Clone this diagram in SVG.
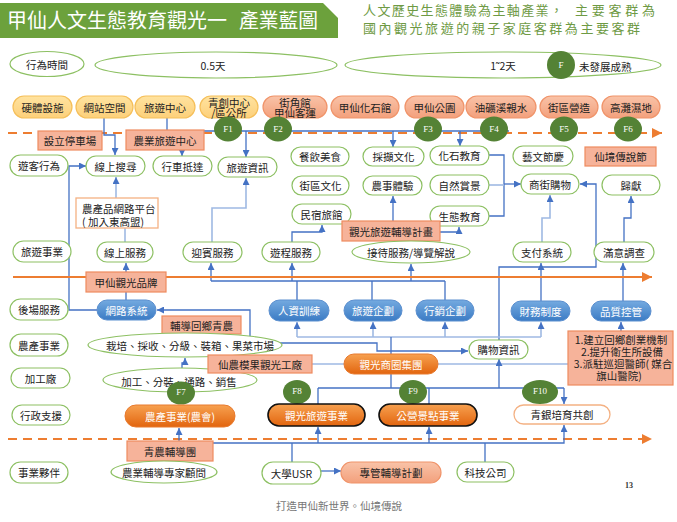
<svg xmlns="http://www.w3.org/2000/svg" width="677" height="522" viewBox="0 0 677 522">
<defs>
<linearGradient id="gy" x1="0" y1="0" x2="0" y2="1"><stop offset="0" stop-color="#ffe3a0"/><stop offset="1" stop-color="#fdd07a"/></linearGradient>
<linearGradient id="gs" x1="0" y1="0" x2="0" y2="1"><stop offset="0" stop-color="#f9c3a8"/><stop offset="1" stop-color="#f3a07c"/></linearGradient>
<linearGradient id="gb" x1="0" y1="0" x2="0" y2="1"><stop offset="0" stop-color="#74aae0"/><stop offset="1" stop-color="#3b7bc4"/></linearGradient>
<linearGradient id="go" x1="0" y1="0" x2="0" y2="1"><stop offset="0" stop-color="#f7a150"/><stop offset="1" stop-color="#e2650f"/></linearGradient>
<marker id="a" viewBox="0 0 10 10" refX="10" refY="5" markerWidth="7" markerHeight="7" markerUnits="userSpaceOnUse" orient="auto"><path d="M0 0 L10 5 L0 10 z" fill="#4472c4"/></marker>
<marker id="ao" viewBox="0 0 10 10" refX="10" refY="5" markerWidth="10" markerHeight="10" markerUnits="userSpaceOnUse" orient="auto"><path d="M0 0 L10 5 L0 10 z" fill="#ed7d31"/></marker>
<style>
.g{fill:#fff;stroke:#8dc063;stroke-width:1.2}
.y{fill:url(#gy);stroke:#f5bf5a;stroke-width:1.2}
.s{fill:url(#gs);stroke:#f0946a;stroke-width:1.2}
.sb{fill:#f6b39a;stroke:#ee8b5f;stroke-width:1.2}
.bp{fill:url(#gb);stroke:#5b8fcf;stroke-width:1}
.op{fill:url(#go);stroke:#e87a2e;stroke-width:1}
.ob{fill:url(#go);stroke:#111;stroke-width:1.6}
.wo{fill:#fff;stroke:#f4b183;stroke-width:1.3}
.fc{fill:#548235}
.t{font-family:"Noto Sans CJK TC","Noto Sans CJK SC",sans-serif;font-size:10.5px;fill:#222;text-anchor:middle;dominant-baseline:central}
.tw{fill:#fff}
.ft{font-family:"Liberation Serif",serif;font-size:9px;fill:#fff;text-anchor:middle;dominant-baseline:central}
.c{fill:none;stroke:#4472c4;stroke-width:1.3}
.cl{fill:none;stroke:#9fb9e3;stroke-width:1.6}
.dash{fill:none;stroke:#ed7d31;stroke-width:2.2;stroke-dasharray:9 6}
</style>
</defs>
<rect width="677" height="522" fill="#fff"/>

<g id="title">
<path d="M0 3 H323 L338 18 V38 H0 Z" fill="#6ca13c"/>
<text x="7" y="28" font-family="Noto Sans CJK TC,sans-serif" font-size="20" fill="#fff" textLength="220" lengthAdjust="spacingAndGlyphs">甲仙人文生態教育觀光一</text>
<text x="239" y="28" font-family="Noto Sans CJK TC,sans-serif" font-size="20" fill="#fff" textLength="79" lengthAdjust="spacingAndGlyphs">產業藍圖</text>
</g>
<g id="subtitle" font-family="Noto Sans CJK TC,sans-serif" font-size="13" fill="#6e9a44">
<text x="363" y="15" textLength="200" lengthAdjust="spacing">人文歷史生態體驗為主軸產業，</text>
<text x="575" y="15" textLength="80" lengthAdjust="spacing">主要客群為</text>
<text x="363" y="33" textLength="277" lengthAdjust="spacing">國內觀光旅遊的親子家庭客群為主要客群</text>
</g>

<g id="connectors">
<line x1="8" y1="133" x2="662" y2="133" class="dash" marker-end="url(#ao)"/>
<line x1="195" y1="131" x2="509" y2="131" class="c"/>
<path d="M104 118 V135 H115 V155" class="c" marker-end="url(#a)"/>
<path d="M167 118 V131" class="c"/>
<path d="M182 150 V156" class="c" marker-end="url(#a)"/>
<path d="M246 131 V157" class="c" marker-end="url(#a)"/>
<path d="M393 131 V147" class="c" marker-end="url(#a)"/>
<path d="M460 131 V146" class="c" marker-end="url(#a)"/>
<path d="M97 310 H69 V166 H86" class="c" marker-end="url(#a)"/>
<path d="M116 198 V177" class="cl" marker-end="url(#a)"/>
<path d="M125 228 V242" class="cl"/>
<path d="M212 242 V208 H246 V178" class="cl" marker-end="url(#a)"/>
<path d="M292 242 V232 H322 V225" class="c" marker-end="url(#a)"/>
<path d="M393 221 V196" class="c" marker-end="url(#a)"/>
<path d="M440 232 H459 V227" class="c" marker-end="url(#a)"/>
<path d="M489 155 H504 V216 H489" class="c"/>
<path d="M489 185 H504" class="cl"/>
<path d="M504 184 H521" class="c" marker-end="url(#a)"/>
<path d="M542 242 V218 H550 V195" class="cl" marker-end="url(#a)"/>
<path d="M624 242 V218 H631 V196" class="c" marker-end="url(#a)"/>
<path d="M499 340 V267 H596 V184 H580" class="c" marker-end="url(#a)"/>
<path d="M211 281 H445" class="c"/>
<path d="M211 281 V263" class="c" marker-end="url(#a)"/>
<path d="M292 281 V263" class="c" marker-end="url(#a)"/>
<path d="M411 281 V264" class="c" marker-end="url(#a)"/>
<path d="M297 281 V300 M372 281 V300 M445 281 V300" class="c"/>
<path d="M126 300 V263" class="c" marker-end="url(#a)"/>
<path d="M541 301 V263" class="c" marker-end="url(#a)"/>
<path d="M623 301 V263" class="c" marker-end="url(#a)"/>
<line x1="13" y1="277" x2="652" y2="277" stroke="#ed7d31" stroke-width="2.2" marker-end="url(#ao)"/>
<path d="M297 337 H541" class="cl"/>
<path d="M297 337 V322" class="cl" marker-end="url(#a)"/>
<path d="M373 337 V322" class="cl" marker-end="url(#a)"/>
<path d="M445 337 V322" class="cl" marker-end="url(#a)"/>
<path d="M541 337 V322" class="cl" marker-end="url(#a)"/>
<path d="M391 337 V388" class="c"/>
<path d="M621 331 V322" class="c" marker-end="url(#a)"/>
<path d="M250 343 V310 H157" class="c" marker-end="url(#a)"/>
<path d="M250 343 H377 V351 H468" class="c" marker-end="url(#a)"/>
<path d="M312 364 H344 M438 364 H568" class="cl"/>
<path d="M318 388 H564" class="c"/>
<path d="M318 388 V404 M429 388 V404" class="c"/>
<path d="M564 388 V404" class="c" marker-end="url(#a)"/>
<path d="M499 388 V359" class="c" marker-end="url(#a)"/>
<path d="M182 368 V363 H185 V358" class="c" marker-end="url(#a)"/>
<line x1="8" y1="439" x2="652" y2="439" class="dash" marker-end="url(#ao)"/>
<path d="M213 443 H564 V425" class="c" marker-end="url(#a)"/>
<path d="M292 462 V443 M485 462 V443" class="c"/>
<path d="M318 443 V427" class="c" marker-end="url(#a)"/>
<path d="M429 443 V427" class="c" marker-end="url(#a)"/>
<path d="M179 441 V428" class="c" marker-end="url(#a)"/>
<path d="M321 471 H341" class="c" marker-end="url(#a)"/>
</g>

<g id="n-time"><ellipse cx="47" cy="64" rx="37" ry="12.5" class="g"/><text x="47" y="64" class="t">行為時間</text></g>
<g id="n-half"><ellipse cx="216" cy="65" rx="121" ry="13" class="g"/><text x="213" y="65" class="t">0.5天</text></g>
<g id="n-days"><ellipse cx="503" cy="65" rx="158" ry="13" class="g"/><text x="503" y="65" class="t">1˜2天</text></g>
<g id="n-f"><circle cx="561" cy="65" r="14" class="fc"/><text x="561" y="65" class="ft" font-size="11">F</text><text x="579" y="66" class="t" style="text-anchor:start" font-size="11">未發展成熟</text></g>

<g id="n-hw"><rect x="13" y="96" width="59" height="22" rx="11" class="y"/><text x="42.5" y="107" class="t">硬體設施</text></g>
<g id="n-web"><rect x="76" y="96" width="57" height="22" rx="11" class="y"/><text x="104.5" y="107" class="t">網站空間</text></g>
<g id="n-tc"><rect x="135" y="96" width="60" height="22" rx="11" class="y"/><text x="165" y="107" class="t">旅遊中心</text></g>
<g id="n-yc"><rect x="200" y="96" width="58" height="22" rx="11" class="y"/><text class="t" font-size="9.5"><tspan x="229" y="101.5">青創中心</tspan><tspan x="229" y="112">/區公所</tspan></text></g>
<g id="n-bus"><rect x="263" y="96" width="64" height="22" rx="11" class="s"/><text class="t" font-size="9.5"><tspan x="295" y="101.5">街角館</tspan><tspan x="295" y="112">甲仙客運</tspan></text></g>
<g id="n-fossil"><rect x="331" y="96" width="68" height="22" rx="11" class="s"/><text x="365" y="107" class="t">甲仙化石館</text></g>
<g id="n-park"><rect x="405" y="96" width="59" height="22" rx="11" class="s"/><text x="434.5" y="107" class="t">甲仙公園</text></g>
<g id="n-oil"><rect x="466" y="96" width="70" height="22" rx="11" class="s"/><text x="501" y="107" class="t">油礦溪親水</text></g>
<g id="n-street"><rect x="540" y="96" width="58" height="22" rx="11" class="s"/><text x="569" y="107" class="t">街區營造</text></g>
<g id="n-wet"><rect x="602" y="96" width="58" height="22" rx="11" class="s"/><text x="631" y="107" class="t">高灘濕地</text></g>

<g id="n-f1"><ellipse cx="228" cy="129" rx="14" ry="12.5" class="fc"/><text x="228" y="129" class="ft">F1</text></g>
<g id="n-f2"><ellipse cx="278" cy="129" rx="14" ry="12.5" class="fc"/><text x="278" y="129" class="ft">F2</text></g>
<g id="n-f3"><ellipse cx="428" cy="129" rx="14" ry="12.5" class="fc"/><text x="428" y="129" class="ft">F3</text></g>
<g id="n-f4"><ellipse cx="494" cy="129" rx="14" ry="12.5" class="fc"/><text x="494" y="129" class="ft">F4</text></g>
<g id="n-f5"><ellipse cx="564" cy="129" rx="14" ry="12.5" class="fc"/><text x="564" y="129" class="ft">F5</text></g>
<g id="n-f6"><ellipse cx="628" cy="129" rx="14" ry="12.5" class="fc"/><text x="628" y="129" class="ft">F6</text></g>

<g id="n-parking"><rect x="38" y="131" width="64" height="19" class="sb"/><text x="70" y="140.5" class="t">設立停車場</text></g>
<g id="n-atc"><rect x="126" y="130" width="78" height="20" class="sb"/><text x="165" y="140" class="t">農業旅遊中心</text></g>

<g id="n-visitor"><rect x="10" y="155" width="58" height="21" rx="10.5" class="g"/><text x="39" y="165.5" class="t">遊客行為</text></g>
<g id="n-search"><rect x="86" y="156" width="59" height="20" rx="10" class="g"/><text x="115.5" y="166" class="t">線上搜尋</text></g>
<g id="n-drive"><rect x="153" y="156" width="59" height="20" rx="10" class="g"/><text x="182.5" y="166" class="t">行車抵達</text></g>
<g id="n-info"><rect x="218" y="157" width="59" height="20" rx="10" class="g"/><text x="247.5" y="167" class="t">旅遊資訊</text></g>

<g id="n-food"><rect x="291" y="147" width="58" height="19" rx="9.5" class="g"/><text x="320" y="156.5" class="t">餐飲美食</text></g>
<g id="n-culture"><rect x="292" y="176" width="57" height="19" rx="9.5" class="g"/><text x="320.5" y="185.5" class="t">街區文化</text></g>
<g id="n-inn"><rect x="292" y="204" width="59" height="20" rx="10" class="g"/><text x="321.5" y="214" class="t">民宿旅館</text></g>
<g id="n-pick"><rect x="363" y="147" width="61" height="19" rx="9.5" class="g"/><text x="393.5" y="156.5" class="t">採擷文化</text></g>
<g id="n-farm"><rect x="363" y="176" width="59" height="19" rx="9.5" class="g"/><text x="392.5" y="185.5" class="t">農事體驗</text></g>
<g id="n-fedu"><rect x="430" y="146" width="59" height="19" rx="9.5" class="g"/><text x="459.5" y="155.5" class="t">化石教育</text></g>
<g id="n-scene"><rect x="430" y="175" width="59" height="20" rx="10" class="g"/><text x="459.5" y="185" class="t">自然賞景</text></g>
<g id="n-eco"><rect x="430" y="206" width="59" height="20" rx="10" class="g"/><text x="459.5" y="216" class="t">生態教育</text></g>
<g id="n-art"><rect x="513" y="146" width="60" height="20" rx="10" class="g"/><text x="543" y="156" class="t">藝文節慶</text></g>
<g id="n-fest"><rect x="585" y="147" width="71" height="19" class="sb"/><text x="620.5" y="156.5" class="t">仙境傳說節</text></g>
<g id="n-shop"><rect x="521" y="174" width="58" height="20" rx="10" class="g"/><text x="550" y="184" class="t">商街購物</text></g>
<g id="n-back"><rect x="602" y="175" width="58" height="20" rx="10" class="g"/><text x="631" y="185" class="t">歸獻</text></g>

<g id="n-platform"><rect x="76" y="198" width="82" height="30" class="wo"/><text class="t" style="text-anchor:start"><tspan x="82" y="207.5">農產品網路平台</tspan><tspan x="82" y="220.5">( 加入東高盟)</tspan></text></g>
<g id="n-plan"><rect x="342" y="221" width="98" height="20" class="sb"/><text x="391" y="231" class="t" font-size="11">觀光旅遊輔導計畫</text></g>

<g id="n-tour"><rect x="13" y="241" width="58" height="21" rx="10.5" class="g"/><text x="42" y="251.5" class="t">旅遊事業</text></g>
<g id="n-online"><rect x="97" y="242" width="56" height="20" rx="10" class="g"/><text x="125" y="252" class="t">線上服務</text></g>
<g id="n-welcome"><rect x="183" y="242" width="59" height="20" rx="10" class="g"/><text x="212.5" y="252" class="t">迎賓服務</text></g>
<g id="n-trip"><rect x="262" y="242" width="58" height="20" rx="10" class="g"/><text x="291" y="252" class="t">遊程服務</text></g>
<g id="n-guide"><ellipse cx="411" cy="252" rx="59" ry="11" class="g"/><text x="411" y="252" class="t">接待服務/導覽解說</text></g>
<g id="n-pay"><rect x="513" y="242" width="58" height="20" rx="10" class="g"/><text x="542" y="252" class="t">支付系統</text></g>
<g id="n-survey"><rect x="594" y="242" width="60" height="20" rx="10" class="g"/><text x="624" y="252" class="t">滿意調查</text></g>

<g id="n-brand"><rect x="86" y="272" width="80" height="20" class="sb"/><text x="126" y="282" class="t" font-size="11">甲仙觀光品牌</text></g>

<g id="n-backend"><rect x="10" y="299" width="58" height="21" rx="10.5" class="g"/><text x="39" y="309.5" class="t">後場服務</text></g>
<g id="n-net"><rect x="97" y="300" width="59" height="20" rx="10" class="bp"/><text x="126.5" y="310" class="t tw">網路系統</text></g>
<g id="n-hr"><rect x="269" y="300" width="60" height="21" rx="10.5" class="bp"/><text x="299" y="310.5" class="t tw">人資訓練</text></g>
<g id="n-tplan"><rect x="344" y="300" width="58" height="21" rx="10.5" class="bp"/><text x="373" y="310.5" class="t tw">旅遊企劃</text></g>
<g id="n-mkt"><rect x="416" y="300" width="58" height="21" rx="10.5" class="bp"/><text x="445" y="310.5" class="t tw">行銷企劃</text></g>
<g id="n-fin"><rect x="511" y="301" width="59" height="20" rx="10" class="bp"/><text x="540.5" y="311" class="t tw">財務制度</text></g>
<g id="n-qc"><rect x="591" y="301" width="60" height="20" rx="10" class="bp"/><text x="621" y="311" class="t tw">品質控管</text></g>
<g id="n-youth"><rect x="162" y="316" width="79" height="18" class="sb"/><text x="201.5" y="325" class="t" font-size="11">輔導回鄉青農</text></g>

<g id="n-agri"><rect x="10" y="334" width="58" height="22" rx="11" class="g"/><text x="39" y="345" class="t">農產事業</text></g>
<g id="n-cultivate"><ellipse cx="185" cy="345" rx="97" ry="12" class="g"/><text x="190" y="345" class="t">栽培、採收、分級、裝箱、果菜市場</text></g>
<g id="n-buyinfo"><rect x="469" y="340" width="59" height="19" rx="9.5" class="g"/><text x="498.5" y="349.5" class="t">購物資訊</text></g>
<g id="n-measures"><rect x="568" y="331" width="105" height="54" class="sb"/><text class="t" font-size="10"><tspan x="621" y="339">1.建立回鄉創業機制</tspan><tspan x="622" y="351">2.提升衛生所設備</tspan><tspan x="623" y="363">3.派駐巡迴醫師( 媒合</tspan><tspan x="619" y="375">旗山醫院)</tspan></text></g>

<g id="n-proc"><rect x="11" y="368" width="59" height="20" rx="10" class="g"/><text x="40.5" y="378" class="t">加工廠</text></g>
<g id="n-procflow"><ellipse cx="180" cy="380" rx="77" ry="12" class="g"/><text x="179" y="381" class="t">加工、分裝、通路、銷售</text></g>
<g id="n-factory"><rect x="208" y="355" width="104" height="18" class="sb"/><text x="260" y="364" class="t" font-size="11">仙農模果觀光工廠</text></g>
<g id="n-group"><rect x="344" y="354" width="94" height="20" rx="10" class="op"/><text x="391" y="364" class="t tw" font-size="11">觀光商圈集團</text></g>

<g id="n-admin"><rect x="12" y="405" width="58" height="20" rx="10" class="g"/><text x="41" y="415" class="t">行政支援</text></g>
<g id="n-f7"><ellipse cx="181" cy="393" rx="14" ry="11.5" class="fc"/><text x="181" y="392" class="ft">F7</text></g>
<g id="n-farmassoc"><rect x="125" y="405" width="110" height="22" rx="11" class="op"/><text x="180" y="416" class="t tw" font-size="11">農產事業(農會)</text></g>
<g id="n-f8"><ellipse cx="297" cy="392" rx="14" ry="12" class="fc"/><text x="297" y="391" class="ft">F8</text></g>
<g id="n-tourbiz"><rect x="268" y="404" width="97" height="22" rx="11" class="ob"/><text x="316.5" y="415" class="t tw" font-size="11">觀光旅遊事業</text></g>
<g id="n-f9"><ellipse cx="413" cy="392" rx="14" ry="12" class="fc"/><text x="413" y="391" class="ft">F9</text></g>
<g id="n-public"><rect x="379" y="404" width="98" height="22" rx="11" class="ob"/><text x="428" y="415" class="t tw" font-size="11">公營景點事業</text></g>
<g id="n-f10"><ellipse cx="540" cy="392" rx="18" ry="12" class="fc"/><text x="540" y="391" class="ft">F10</text></g>
<g id="n-cocreate"><rect x="514" y="405" width="96" height="19" rx="9.5" class="wo"/><text x="562" y="414.5" class="t">青銀培育共創</text></g>

<g id="n-coach"><rect x="127" y="441" width="86" height="20" class="sb"/><text x="170" y="451" class="t" font-size="11">青農輔導團</text></g>
<g id="n-partner"><rect x="10" y="462" width="58" height="21" rx="10.5" class="g"/><text x="39" y="472.5" class="t">事業夥伴</text></g>
<g id="n-expert"><ellipse cx="164" cy="472" rx="53" ry="11" class="g"/><text x="164" y="472" class="t">農業輔導專家顧問</text></g>
<g id="n-usr"><rect x="262" y="462" width="59" height="22" rx="11" class="g"/><text x="291.5" y="473" class="t">大學USR</text></g>
<g id="n-mgmt"><rect x="341" y="462" width="100" height="21" rx="10.5" class="s"/><text x="391" y="472.5" class="t" font-size="11">專管輔導計劃</text></g>
<g id="n-tech"><rect x="457" y="462" width="57" height="20" rx="10" class="g"/><text x="485.5" y="472" class="t">科技公司</text></g>

<g id="footer">
<text x="339" y="505" class="t" font-size="9.5" style="fill:#777">打造甲仙新世界。仙境傳說</text>
<text x="629" y="488" font-family="Liberation Serif,serif" font-size="8" font-weight="bold" fill="#333" text-anchor="middle">13</text>
</g>
</svg>
